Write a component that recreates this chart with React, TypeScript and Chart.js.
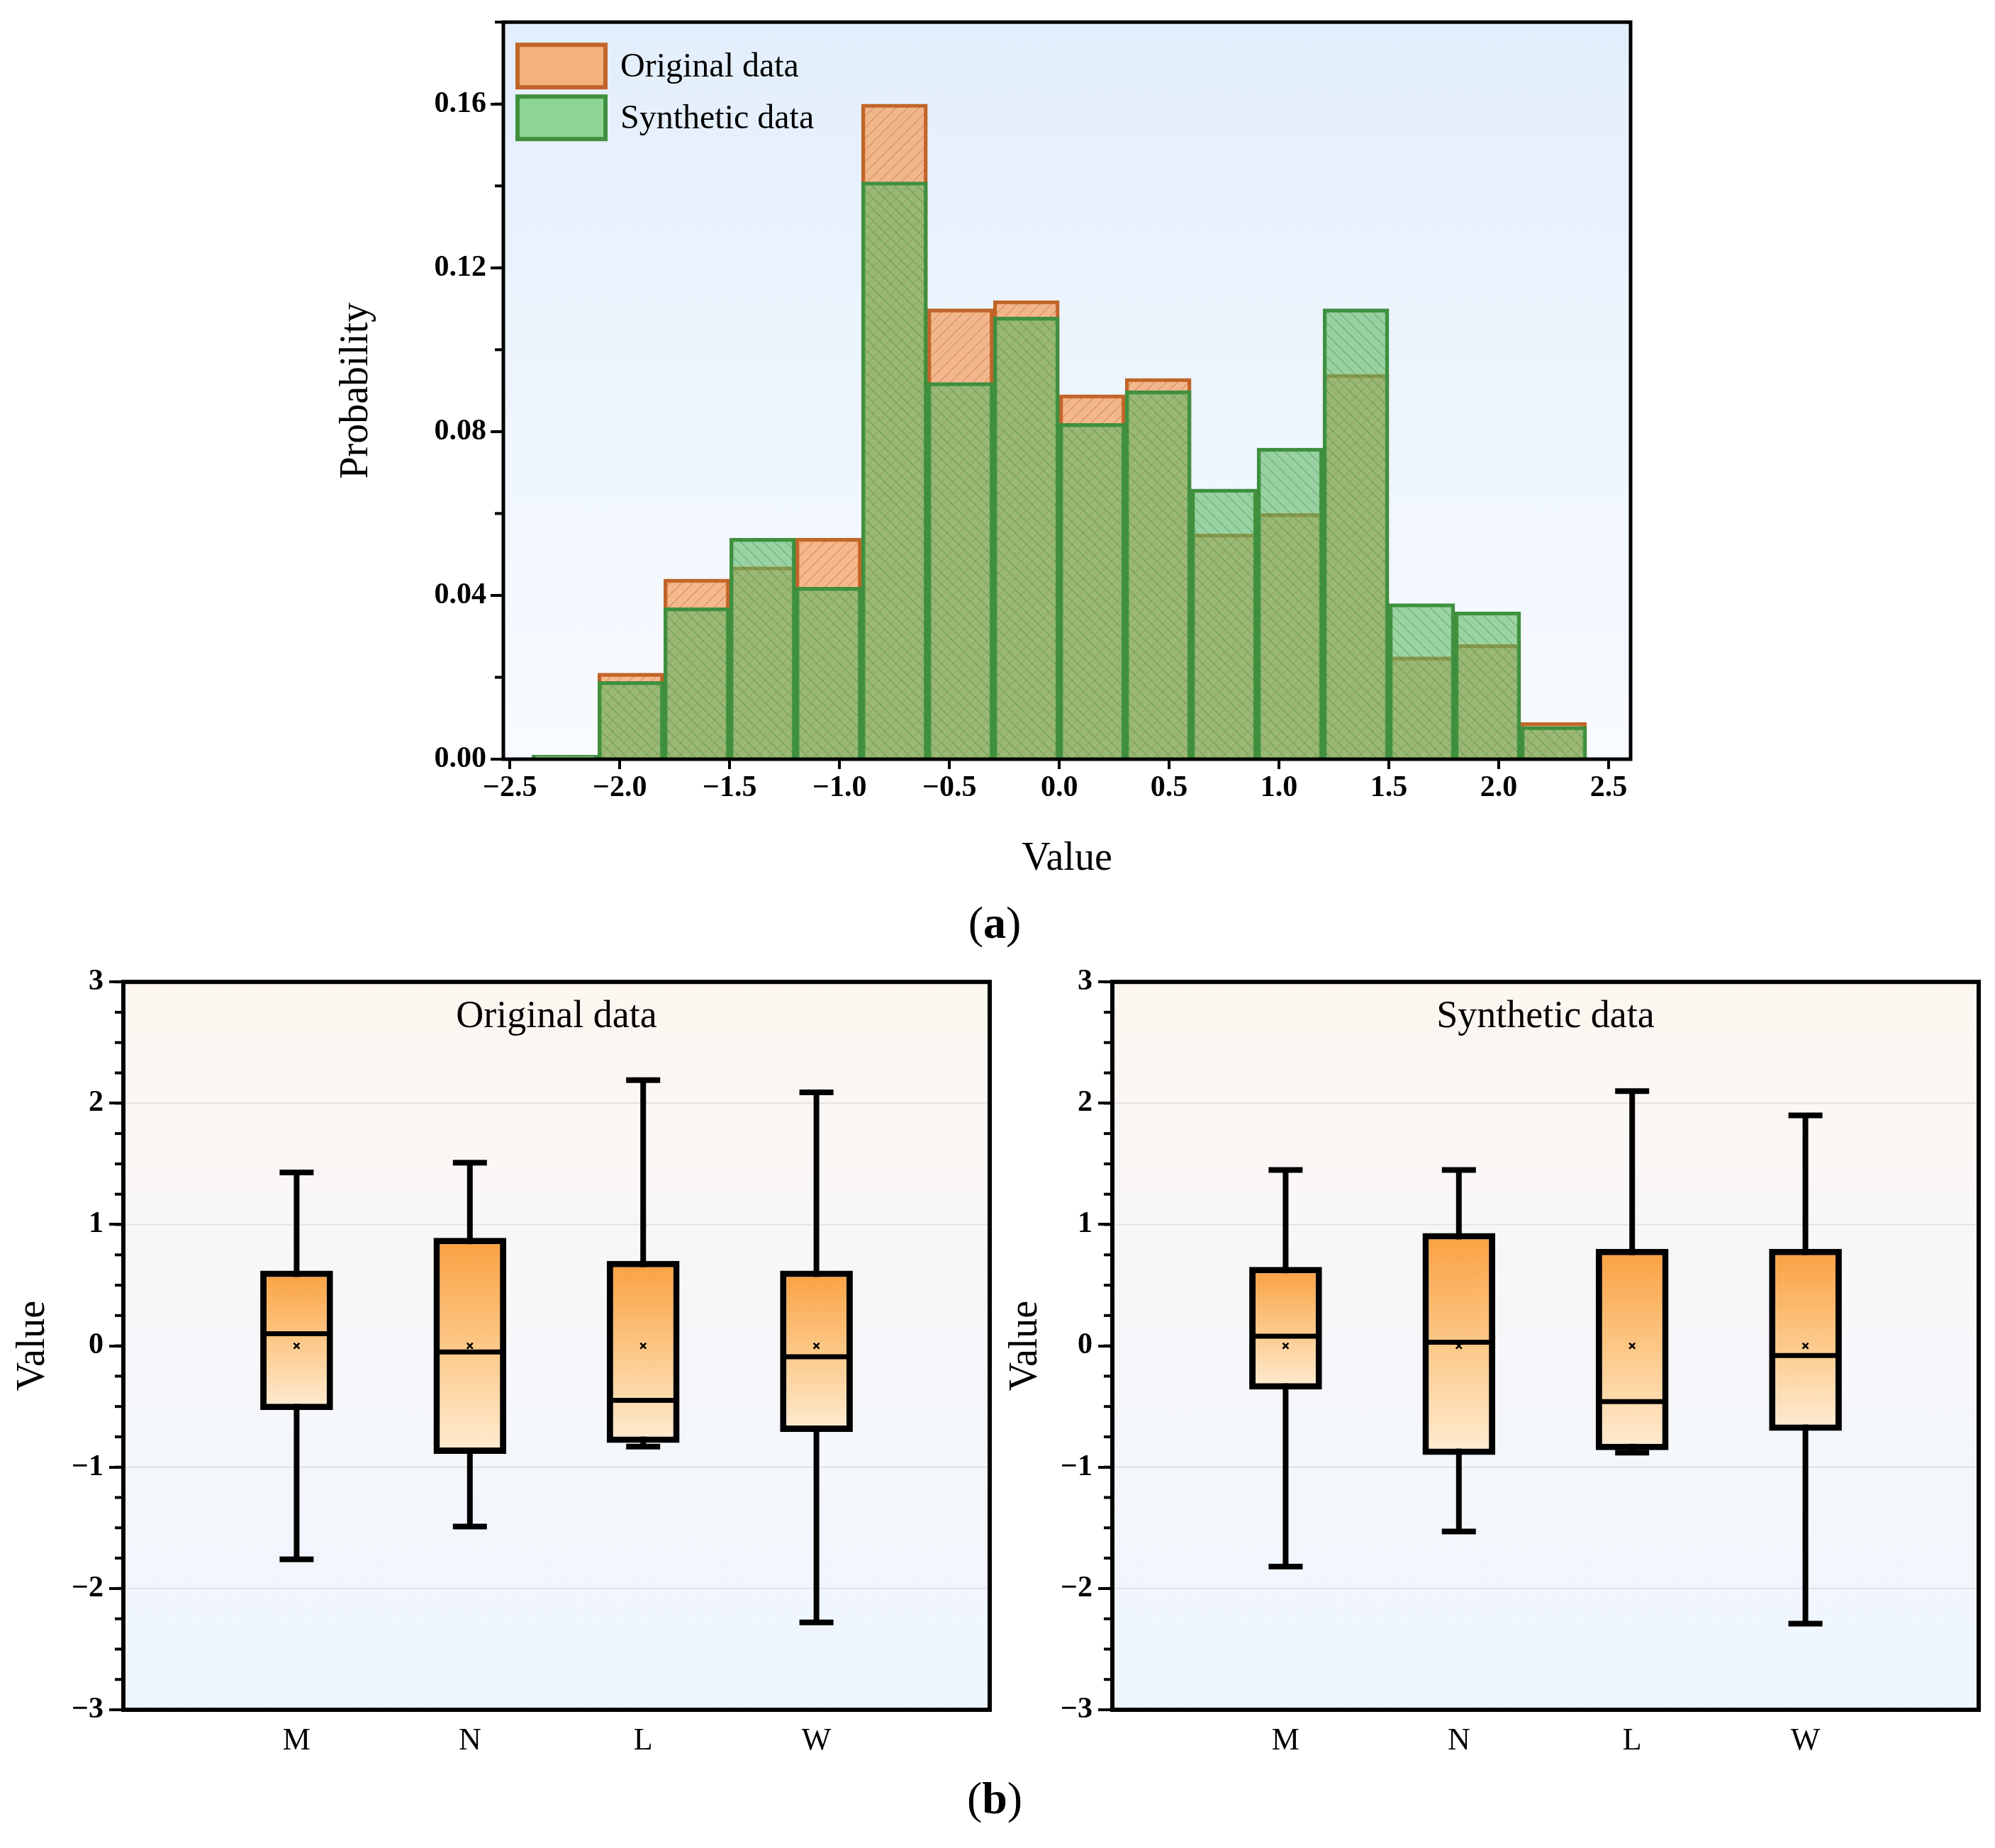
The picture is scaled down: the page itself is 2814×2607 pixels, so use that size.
import React, { useEffect, useRef } from "react";
import { Chart, registerables } from "chart.js";
Chart.register(...registerables);

const binCenters = [-2.25, -1.95, -1.65, -1.35, -1.05, -0.75, -0.45, -0.15, 0.15, 0.45, 0.75, 1.05, 1.35, 1.65, 1.95, 2.25];
const origProb = [0.0, 0.021, 0.044, 0.047, 0.054, 0.16, 0.11, 0.112, 0.089, 0.093, 0.055, 0.06, 0.094, 0.025, 0.028, 0.009];
const synProb = [0.001, 0.019, 0.037, 0.054, 0.042, 0.141, 0.092, 0.108, 0.082, 0.09, 0.066, 0.076, 0.11, 0.038, 0.036, 0.008];
const histTicksY = [0, 0.04, 0.08, 0.12, 0.16];

const groups = ["M", "N", "L", "W"];
const origMin = [-1.76, -1.49, -0.83, -2.28];
const origQ1 = [-0.53, -0.89, -0.8, -0.71];
const origMed = [0.1, -0.05, -0.45, -0.09];
const origQ3 = [0.62, 0.89, 0.7, 0.62];
const origMax = [1.43, 1.51, 2.19, 2.09];
const synMin = [-1.82, -1.53, -0.88, -2.29];
const synQ1 = [-0.36, -0.9, -0.86, -0.7];
const synMed = [0.08, 0.03, -0.46, -0.08];
const synQ3 = [0.65, 0.93, 0.8, 0.8];
const synMax = [1.45, 1.45, 2.1, 1.9];
const means = [0, 0, 0, 0];

const SERIF = "'Liberation Serif', 'Times New Roman', serif";

function hatch(base: string, line: string, dir: number) {
  const c = document.createElement("canvas");
  c.width = 16; c.height = 16;
  const g = c.getContext("2d")!;
  g.fillStyle = base; g.fillRect(0, 0, 16, 16);
  g.strokeStyle = line; g.lineWidth = 1.2;
  g.beginPath();
  if (dir > 0) { g.moveTo(0, 16); g.lineTo(16, 0); g.moveTo(-4, 4); g.lineTo(4, -4); g.moveTo(12, 20); g.lineTo(20, 12); }
  else { g.moveTo(0, 0); g.lineTo(16, 16); g.moveTo(-4, 12); g.lineTo(4, 20); g.moveTo(12, -4); g.lineTo(20, 4); }
  g.stroke();
  return g.createPattern(c, "repeat")!;
}

function minorTicksY(chart: any, step: number, len: number) {
  const { ctx, scales } = chart;
  const y = scales.y; const left = chart.chartArea.left;
  ctx.save(); ctx.strokeStyle = "#000"; ctx.lineWidth = 4;
  for (let v = y.min; v <= y.max + 1e-9; v += step) {
    const p = y.getPixelForValue(v);
    ctx.beginPath(); ctx.moveTo(left, p); ctx.lineTo(left - len, p); ctx.stroke();
  }
  ctx.restore();
}

function Histogram() {
  const ref = useRef<HTMLCanvasElement>(null);
  useEffect(() => {
    const bg = {
      id: "bg",
      beforeDatasetsDraw(chart: any) {
        const { ctx, chartArea: a } = chart;
        if (!a || !isFinite(a.top) || !isFinite(a.bottom)) return;
        const gr = ctx.createLinearGradient(0, a.top, 0, a.bottom);
        gr.addColorStop(0, "#e3eefc"); gr.addColorStop(1, "#f8fbff");
        ctx.save(); ctx.fillStyle = gr; ctx.fillRect(a.left, a.top, a.width, a.height); ctx.restore();
      },
      afterDraw(chart: any) {
        const { ctx, chartArea: a } = chart;
        minorTicksY(chart, 0.02, 12);
        ctx.save(); ctx.strokeStyle = "#000"; ctx.lineWidth = 5;
        ctx.strokeRect(a.left, a.top, a.width, a.height);
        const items = [
          { t: "Original data", f: "rgba(245,170,110,0.9)", b: "#c0652a" },
          { t: "Synthetic data", f: "rgba(130,210,140,0.9)", b: "#3f8f3f" },
        ];
        items.forEach((it, i) => {
          const x = a.left + 20, y = a.top + 32 + i * 73;
          ctx.fillStyle = it.f; ctx.fillRect(x, y, 124, 60);
          ctx.strokeStyle = it.b; ctx.lineWidth = 6; ctx.strokeRect(x, y, 124, 60);
          ctx.fillStyle = "#000"; ctx.font = `48px ${SERIF}`; ctx.textBaseline = "middle";
          ctx.fillText(it.t, x + 145, y + 32);
        });
        ctx.restore();
      },
    };
    const c = new Chart(ref.current!, {
      type: "bar",
      data: {
        datasets: [
          { label: "Original data", order: 2, data: binCenters.map((x, i) => ({ x, y: origProb[i] })), backgroundColor: hatch("rgba(245,150,80,0.65)", "rgba(200,100,40,0.5)", 1), borderColor: "#c0652a", borderWidth: 5, barPercentage: 1, categoryPercentage: 1, grouped: false } as any,
          { label: "Synthetic data", order: 1, data: binCenters.map((x, i) => ({ x, y: synProb[i] })), backgroundColor: hatch("rgba(95,185,100,0.6)", "rgba(50,130,50,0.45)", -1), borderColor: "#3f8f3f", borderWidth: 5, barPercentage: 1, categoryPercentage: 1, grouped: false } as any,
        ],
      },
      options: {
        animation: false, responsive: false, devicePixelRatio: 1,
        layout: { padding: { top: 27, right: 40 } },
        plugins: { legend: { display: false }, tooltip: { enabled: false } },
        scales: {
          x: {
            type: "linear", min: -2.53, max: 2.6, offset: false,
            afterBuildTicks: (s: any) => { s.ticks = [-2.5, -2, -1.5, -1, -0.5, 0, 0.5, 1, 1.5, 2, 2.5].map((v) => ({ value: v })); },
            afterFit: (s: any) => { s.height = 179; },
            grid: { display: true, offset: false, drawOnChartArea: false, tickLength: 14, color: "#000", lineWidth: 4 },
            border: { display: false },
            ticks: { color: "#000", font: { family: SERIF, size: 42, weight: "bold" }, padding: 2, callback: (v: any) => Number(v).toFixed(1).replace("-", "\u2212") },
            title: { display: true, text: "Value", color: "#000", font: { family: SERIF, size: 56 }, padding: { top: 14 } },
          },
          y: {
            min: 0, max: 0.18,
            afterBuildTicks: (s: any) => { s.ticks = histTicksY.map((v) => ({ value: v })); },
            afterFit: (s: any) => { s.width = 270; },
            grid: { display: true, drawOnChartArea: false, tickLength: 18, color: "#000", lineWidth: 4 },
            border: { display: false },
            ticks: { color: "#000", font: { family: SERIF, size: 42, weight: "bold" }, padding: 6, callback: (v: any) => Number(v).toFixed(2) },
            title: { display: true, text: "Probability", color: "#000", font: { family: SERIF, size: 56 }, padding: { bottom: 0, top: 30 } },
          },
        },
      },
      plugins: [bg],
    });
    return () => c.destroy();
  }, []);
  return <canvas ref={ref} width={1900} height={1250} style={{ position: "absolute", left: 440, top: 0 }} />;
}

function BoxChart(props: { title: string; mins: number[]; q1: number[]; med: number[]; q3: number[]; maxs: number[]; left: number; yw: number; width: number }) {
  const ref = useRef<HTMLCanvasElement>(null);
  useEffect(() => {
    const { mins, q1, med, q3, maxs, title } = props;
    const plug = {
      id: "boxbits",
      beforeDatasetsDraw(chart: any) {
        const { ctx, chartArea: a, scales } = chart;
        if (!a || !isFinite(a.top) || !isFinite(a.bottom)) return;
        const gr = ctx.createLinearGradient(0, a.top, 0, a.bottom);
        gr.addColorStop(0, "#fdf6f0"); gr.addColorStop(0.5, "#f6f7fa"); gr.addColorStop(1, "#eef6fe");
        ctx.save(); ctx.fillStyle = gr; ctx.fillRect(a.left, a.top, a.width, a.height);
        ctx.strokeStyle = "rgba(0,0,0,0.08)"; ctx.lineWidth = 2;
        [-2, -1, 1, 2].forEach((v) => { const p = scales.y.getPixelForValue(v); ctx.beginPath(); ctx.moveTo(a.left, p); ctx.lineTo(a.right, p); ctx.stroke(); });
        ctx.strokeStyle = "#000"; ctx.lineWidth = 8;
        groups.forEach((_, i) => {
          const x = scales.x.getPixelForValue(i + 1);
          const pMin = scales.y.getPixelForValue(mins[i]), pMax = scales.y.getPixelForValue(maxs[i]);
          ctx.beginPath(); ctx.moveTo(x, pMax); ctx.lineTo(x, pMin); ctx.stroke();
          [pMin, pMax].forEach((p) => { ctx.beginPath(); ctx.moveTo(x - 24, p); ctx.lineTo(x + 24, p); ctx.stroke(); });
        });
        ctx.restore();
      },
      afterDatasetsDraw(chart: any) {
        const { ctx, scales } = chart;
        ctx.save(); ctx.strokeStyle = "#000";
        groups.forEach((_, i) => {
          const x = scales.x.getPixelForValue(i + 1);
          const pm = scales.y.getPixelForValue(med[i]);
          ctx.lineWidth = 7; ctx.beginPath(); ctx.moveTo(x - 50, pm); ctx.lineTo(x + 50, pm); ctx.stroke();
          const py = scales.y.getPixelForValue(means[i]);
          ctx.lineWidth = 2.5; ctx.beginPath();
          ctx.moveTo(x - 4, py - 4); ctx.lineTo(x + 4, py + 4); ctx.moveTo(x - 4, py + 4); ctx.lineTo(x + 4, py - 4); ctx.stroke();
        });
        ctx.restore();
      },
      afterDraw(chart: any) {
        const { ctx, chartArea: a } = chart;
        minorTicksY(chart, 0.25, 12);
        ctx.save(); ctx.strokeStyle = "#000"; ctx.lineWidth = 6; ctx.strokeRect(a.left, a.top, a.width, a.height);
        ctx.fillStyle = "#000"; ctx.font = `54px ${SERIF}`; ctx.textAlign = "center"; ctx.textBaseline = "middle";
        ctx.fillText(title, (a.left + a.right) / 2, a.top + 50);
        ctx.restore();
      },
    };
    const c = new Chart(ref.current!, {
      type: "bar",
      data: {
        datasets: [{
          data: groups.map((_, i) => ({ x: i + 1, y: [q1[i], q3[i]] })) as any,
          backgroundColor: (ctx: any) => {
            const ch = ctx.chart; const i = ctx.dataIndex;
            if (!ch.scales || !ch.scales.y || i === undefined) return "#fbb060";
            const t = ch.scales.y.getPixelForValue(q3[i]); const b = ch.scales.y.getPixelForValue(q1[i]);
            if (!isFinite(t) || !isFinite(b)) return "#fbb060";
            const g = ch.ctx.createLinearGradient(0, t, 0, b);
            g.addColorStop(0, "#faa040"); g.addColorStop(0.5, "#fcc887"); g.addColorStop(1, "#feecd3");
            return g;
          },
          borderColor: "#000", borderWidth: 9, borderSkipped: false, barPercentage: 0.42, categoryPercentage: 1,
        } as any],
      },
      options: {
        animation: false, responsive: false, devicePixelRatio: 1,
        layout: { padding: { top: 14, right: props.width - props.yw - 1222 } },
        plugins: { legend: { display: false }, tooltip: { enabled: false } },
        scales: {
          x: {
            type: "linear", min: 0, max: 5, offset: false,
            afterBuildTicks: (s: any) => { s.ticks = [1, 2, 3, 4].map((v) => ({ value: v })); },
            afterFit: (s: any) => { s.height = 68; },
            grid: { display: false },
            border: { display: false },
            ticks: { color: "#000", font: { family: SERIF, size: 44 }, padding: 10, callback: (v: any) => groups[Number(v) - 1] ?? "" },
          },
          y: {
            min: -3, max: 3,
            afterBuildTicks: (s: any) => { s.ticks = [-3, -2, -1, 0, 1, 2, 3].map((v) => ({ value: v })); },
            afterFit: (s: any) => { s.width = props.yw; },
            grid: { display: true, drawOnChartArea: false, tickLength: 20, color: "#000", lineWidth: 4 },
            border: { display: false },
            ticks: { color: "#000", font: { family: SERIF, size: 42, weight: "bold" }, padding: 8, callback: (v: any) => String(v).replace("-", "\u2212") },
            title: { display: true, text: "Value", color: "#000", font: { family: SERIF, size: 56 }, padding: { bottom: 4, top: 14 } },
          },
        },
      },
      plugins: [plug],
    });
    return () => c.destroy();
  }, []);
  return <canvas ref={ref} width={props.width} height={1128} style={{ position: "absolute", left: props.left, top: 1352 }} />;
}

export default function App() {
  const lab: React.CSSProperties = { position: "absolute", width: 200, marginLeft: -100, textAlign: "center", fontFamily: SERIF, fontSize: 64, color: "#000" };
  return (
    <div style={{ position: "relative", width: 2814, height: 2607, background: "#fff", margin: -8 }}>
      <Histogram />
      <div style={{ ...lab, left: 1403, top: 1265 }}>(<b>a</b>)</div>
      <BoxChart title="Original data" mins={origMin} q1={origQ1} med={origMed} q3={origQ3} maxs={origMax} left={0} yw={174} width={1420} />
      <BoxChart title="Synthetic data" mins={synMin} q1={synQ1} med={synMed} q3={synQ3} maxs={synMax} left={1400} yw={169} width={1414} />
      <div style={{ ...lab, left: 1403, top: 2500 }}>(<b>b</b>)</div>
    </div>
  );
}
